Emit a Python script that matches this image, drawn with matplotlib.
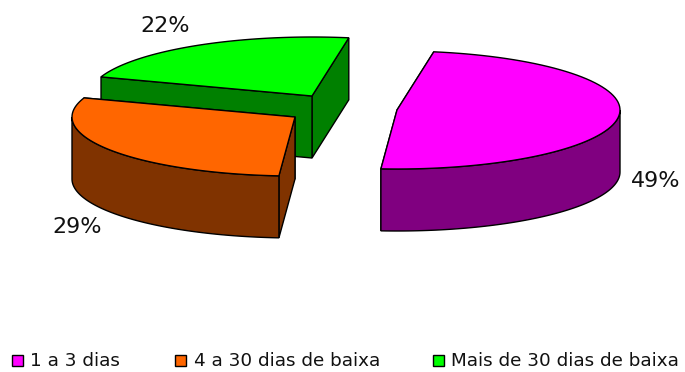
import numpy as np
import matplotlib
matplotlib.use('Agg')
import matplotlib.pyplot as plt
from matplotlib.patches import Polygon, Rectangle

categories = ['1 a 3 dias', '4 a 30 dias de baixa', 'Mais de 30 dias de baixa']
shares = [48.51, 29.1, 22.39]
top_colors = ['#FF00FF', '#FF6600', '#00FF00']
side_colors = ['#800080', '#803300', '#008000']

# geometry of the fake 3d pie, in pixels
centers = [(397, 110), (295, 117), (312, 96)]
rx, ry = 223, 59
depth = 62
start_angle = 9.5
label_pos = [(656, 181), (77, 227), (165, 26)]
legend_box_x = [12, 175, 433]
legend_text_x = [30, 194, 451]


def arc_points(c, a0, a1, dz=0):
    t = np.radians(np.linspace(a0, a1, 80))
    return np.column_stack([c[0] + rx * np.sin(t), c[1] - ry * np.cos(t) + dz])


def wall(ax, c, ang, side, z):
    edge = arc_points(c, ang, ang)[0]
    pts = [c, edge, edge + [0, depth], (c[0], c[1] + depth)]
    ax.add_patch(Polygon(pts, fc=side, ec='k', lw=1, zorder=z))


def draw_slice(ax, c, a0, a1, top, side, z):
    wall(ax, c, a1, side, z)
    wall(ax, c, a0, side, z + 0.05)
    # outer wall, only the part facing the viewer (90 to 270 deg)
    lo, hi = max(a0, 90), min(a1, 270)
    if hi > lo:
        up = arc_points(c, lo, hi)
        down = arc_points(c, lo, hi, depth)
        ax.add_patch(Polygon(np.vstack([up, down[::-1]]), fc=side, ec='k', lw=1, zorder=z + 0.1))
    pts = np.vstack([[c], arc_points(c, a0, a1)])
    ax.add_patch(Polygon(pts, fc=top, ec='k', lw=1, zorder=z + 0.2))


fig = plt.figure(figsize=(6.85, 3.72), dpi=100)
ax = fig.add_axes([0, 0, 1, 1])
ax.set_xlim(0, 685)
ax.set_ylim(372, 0)
ax.axis('off')

angles = start_angle + np.concatenate([[0], np.cumsum(shares)]) * 3.6
# back slices first
for i in [2, 1, 0]:
    draw_slice(ax, centers[i], angles[i], angles[i + 1], top_colors[i], side_colors[i], 3 - i)

for i, s in enumerate(shares):
    ax.text(label_pos[i][0], label_pos[i][1], f'{s:.0f}%', fontsize=16, color='#111111',
            ha='center', va='center', zorder=10)

for i, name in enumerate(categories):
    ax.add_patch(Rectangle((legend_box_x[i], 355), 11, 11, fc=top_colors[i], ec='k', lw=1, zorder=10))
    ax.text(legend_text_x[i], 361, name, fontsize=13.2, color='#111111', ha='left', va='center', zorder=10)

fig.savefig('out.png', dpi=100)
